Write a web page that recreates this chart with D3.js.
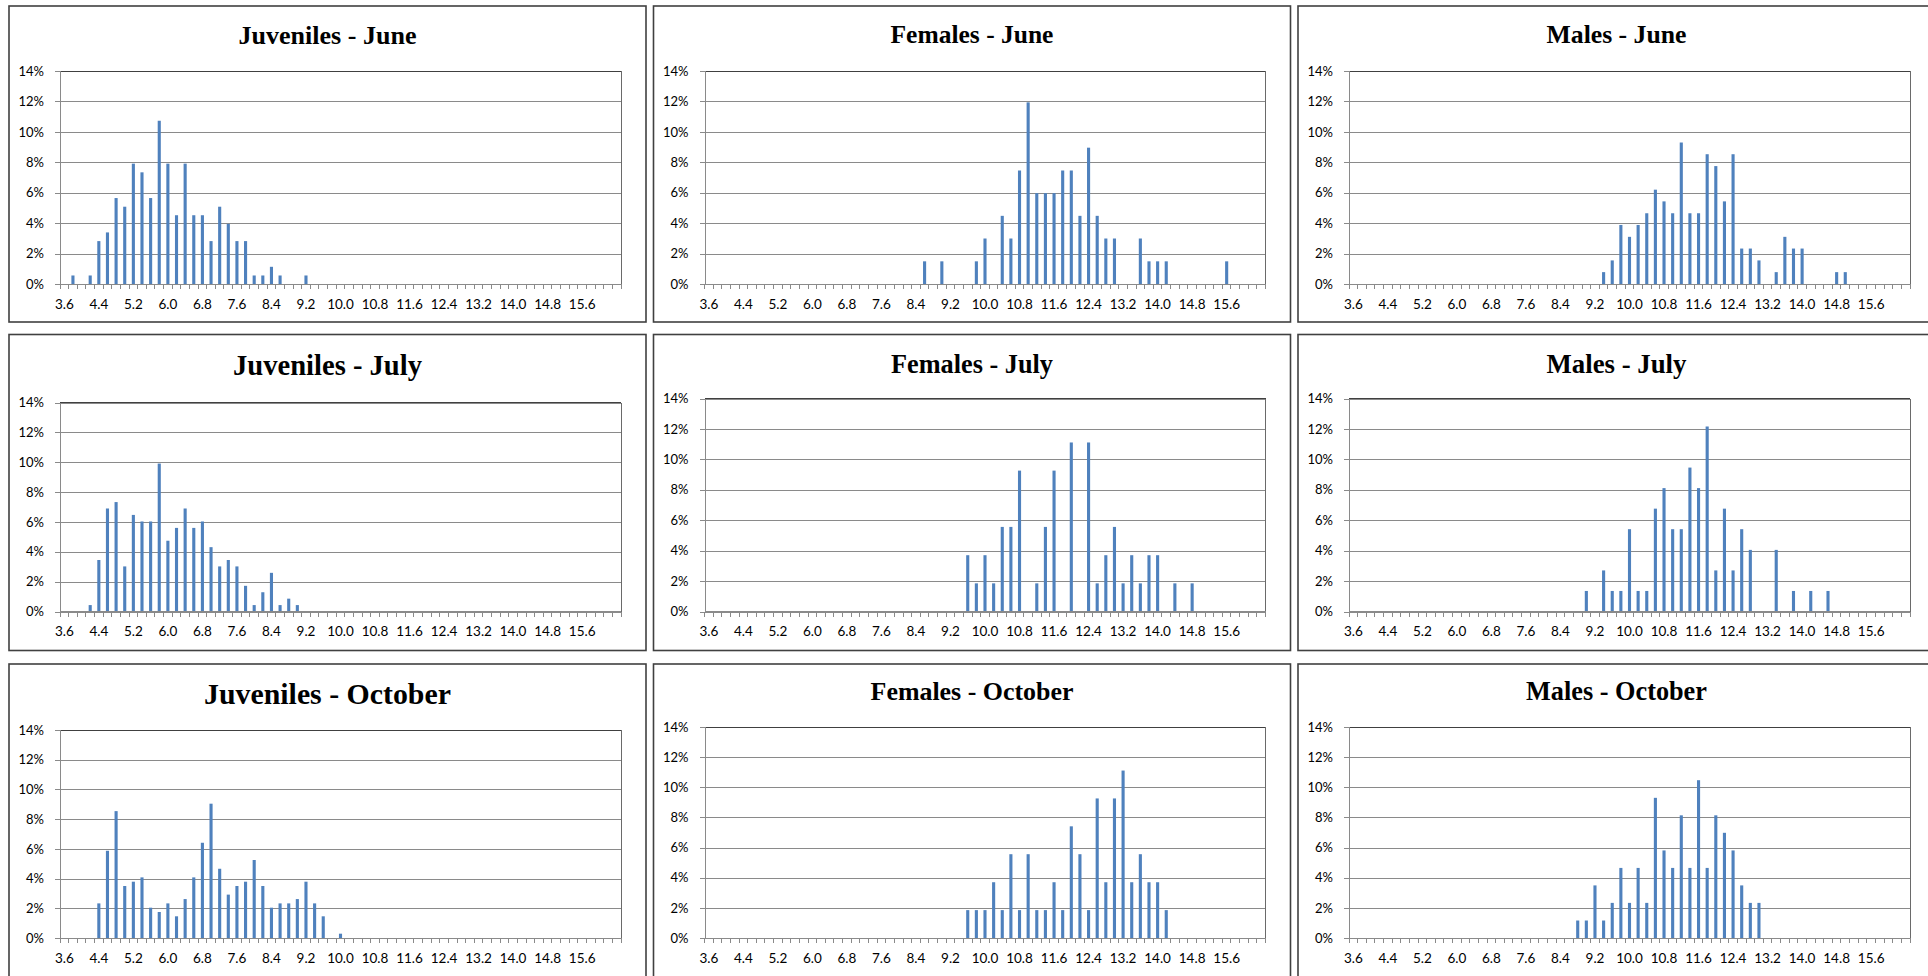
<!DOCTYPE html>
<html><head><meta charset="utf-8">
<script src="https://cdn.jsdelivr.net/npm/d3@7"></script>
<style>
body{margin:0;background:#fff;}
svg{display:block;}
</style>
</head><body>
<svg id="chart" width="1928" height="976"></svg>
<script>
// ---------------- DATA ----------------
const categories = ["3.6","3.8","4.0","4.2","4.4","4.6","4.8","5.0","5.2","5.4","5.6","5.8","6.0","6.2","6.4","6.6","6.8","7.0","7.2","7.4","7.6","7.8","8.0","8.2","8.4","8.6","8.8","9.0","9.2","9.4","9.6","9.8","10.0","10.2","10.4","10.6","10.8","11.0","11.2","11.4","11.6","11.8","12.0","12.2","12.4","12.6","12.8","13.0","13.2","13.4","13.6","13.8","14.0","14.2","14.4","14.6","14.8","15.0","15.2","15.4","15.6","15.8","16.0","16.2","16.4"];
const tickLabels = ["3.6","4.4","5.2","6.0","6.8","7.6","8.4","9.2","10.0","10.8","11.6","12.4","13.2","14.0","14.8","15.6"];
const yTicks = [0,2,4,6,8,10,12,14];
const titles = ["Juveniles - June","Females - June","Males - June","Juveniles - July","Females - July","Males - July","Juveniles - October","Females - October","Males - October"];

// [length class, percent]
const juvenilesJune = [["3.8",0.56],["4.2",0.56],["4.4",2.82],["4.6",3.39],["4.8",5.65],["5.0",5.08],["5.2",7.91],["5.4",7.34],["5.6",5.65],["5.8",10.73],["6.0",7.91],["6.2",4.52],["6.4",7.91],["6.6",4.52],["6.8",4.52],["7.0",2.82],["7.2",5.08],["7.4",3.95],["7.6",2.82],["7.8",2.82],["8.0",0.56],["8.2",0.56],["8.4",1.13],["8.6",0.56],["9.2",0.56]];
const femalesJune = [["8.6",1.49],["9.0",1.49],["9.8",1.49],["10.0",2.99],["10.4",4.48],["10.6",2.99],["10.8",7.46],["11.0",11.94],["11.2",5.97],["11.4",5.97],["11.6",5.97],["11.8",7.46],["12.0",7.46],["12.2",4.48],["12.4",8.96],["12.6",4.48],["12.8",2.99],["13.0",2.99],["13.6",2.99],["13.8",1.49],["14.0",1.49],["14.2",1.49],["15.6",1.49]];
const malesJune = [["9.4",0.78],["9.6",1.55],["9.8",3.88],["10.0",3.10],["10.2",3.88],["10.4",4.65],["10.6",6.20],["10.8",5.43],["11.0",4.65],["11.2",9.30],["11.4",4.65],["11.6",4.65],["11.8",8.53],["12.0",7.75],["12.2",5.43],["12.4",8.53],["12.6",2.33],["12.8",2.33],["13.0",1.55],["13.4",0.78],["13.6",3.10],["13.8",2.33],["14.0",2.33],["14.8",0.78],["15.0",0.78]];
const juvenilesJuly = [["4.2",0.43],["4.4",3.45],["4.6",6.90],["4.8",7.33],["5.0",3.02],["5.2",6.47],["5.4",6.03],["5.6",6.03],["5.8",9.91],["6.0",4.74],["6.2",5.60],["6.4",6.90],["6.6",5.60],["6.8",6.03],["7.0",4.31],["7.2",3.02],["7.4",3.45],["7.6",3.02],["7.8",1.72],["8.0",0.43],["8.2",1.29],["8.4",2.59],["8.6",0.43],["8.8",0.86],["9.0",0.43]];
const femalesJuly = [["9.6",3.70],["9.8",1.85],["10.0",3.70],["10.2",1.85],["10.4",5.56],["10.6",5.56],["10.8",9.26],["11.2",1.85],["11.4",5.56],["11.6",9.26],["12.0",11.11],["12.4",11.11],["12.6",1.85],["12.8",3.70],["13.0",5.56],["13.2",1.85],["13.4",3.70],["13.6",1.85],["13.8",3.70],["14.0",3.70],["14.4",1.85],["14.8",1.85]];
const malesJuly = [["9.0",1.35],["9.4",2.70],["9.6",1.35],["9.8",1.35],["10.0",5.41],["10.2",1.35],["10.4",1.35],["10.6",6.76],["10.8",8.11],["11.0",5.41],["11.2",5.41],["11.4",9.46],["11.6",8.11],["11.8",12.16],["12.0",2.70],["12.2",6.76],["12.4",2.70],["12.6",5.41],["12.8",4.05],["13.4",4.05],["13.8",1.35],["14.2",1.35],["14.6",1.35]];
const juvenilesOctober = [["4.4",2.33],["4.6",5.87],["4.8",8.54],["5.0",3.50],["5.2",3.79],["5.4",4.08],["5.6",2.04],["5.8",1.75],["6.0",2.33],["6.2",1.46],["6.4",2.62],["6.6",4.08],["6.8",6.41],["7.0",9.04],["7.2",4.66],["7.4",2.92],["7.6",3.50],["7.8",3.79],["8.0",5.25],["8.2",3.50],["8.4",2.04],["8.6",2.33],["8.8",2.33],["9.0",2.62],["9.2",3.79],["9.4",2.33],["9.6",1.46],["10.0",0.29]];
const femalesOctober = [["9.6",1.85],["9.8",1.85],["10.0",1.85],["10.2",3.70],["10.4",1.85],["10.6",5.56],["10.8",1.85],["11.0",5.56],["11.2",1.85],["11.4",1.85],["11.6",3.70],["11.8",1.85],["12.0",7.41],["12.2",5.56],["12.4",1.85],["12.6",9.26],["12.8",3.70],["13.0",9.26],["13.2",11.11],["13.4",3.70],["13.6",5.56],["13.8",3.70],["14.0",3.70],["14.2",1.85]];
const malesOctober = [["8.8",1.16],["9.0",1.16],["9.2",3.49],["9.4",1.16],["9.6",2.33],["9.8",4.65],["10.0",2.33],["10.2",4.65],["10.4",2.33],["10.6",9.30],["10.8",5.81],["11.0",4.65],["11.2",8.14],["11.4",4.65],["11.6",10.47],["11.8",4.65],["12.0",8.14],["12.2",6.98],["12.4",5.81],["12.6",3.49],["12.8",2.33],["13.0",2.33]];

const seriesList = [juvenilesJune, femalesJune, malesJune, juvenilesJuly, femalesJuly, malesJuly, juvenilesOctober, femalesOctober, malesOctober];

// ---------------- LAYOUT ----------------
const colX = [9, 653.5, 1298];
const rowY = [6, 334.5, 664];
const panelW = 637, panelH = 316;
const plotLeft = 51, plotRight = 612;
const plotTop = [[65,65,65],[68,64,64],[66,63,63]];
const plotBottom = [278, 277, 274];
const titleWidth = [178,163,140,189,162,140,247,203,181];
const titleBase = [[38,37,37],[40,38,38],[40,36,36]];

const BAR = "#4F81BD", GRID = "#8a8a8a", AXIS = "#8a8a8a", FRAME = "#404040";
const labelFont = "Lato, 'Liberation Sans', sans-serif";

const svg = d3.select("#chart");

seriesList.forEach((series, k) => {
  const r = Math.floor(k / 3), c = k % 3;
  const g = svg.append("g").attr("transform", `translate(${colX[c]},${rowY[r]})`);

  // panel frame
  g.append("rect").attr("x", 0).attr("y", 0).attr("width", panelW).attr("height", panelH)
    .attr("fill", "#fff").attr("stroke", FRAME).attr("stroke-width", 1.6);

  // title
  const t = g.append("text").attr("x", panelW / 2).attr("y", titleBase[r][c])
    .attr("text-anchor", "middle")
    .style("font-family", "'Liberation Serif', 'Times New Roman', serif")
    .style("font-weight", "bold").style("font-size", "26px")
    .attr("fill", "#000").text(titles[k]);
  const len = t.node().getComputedTextLength();
  t.style("font-size", (26 * titleWidth[k] / len) + "px");

  const top = plotTop[r][c], bottom = plotBottom[r];
  const x = d3.scaleBand().domain(categories)
    .range([plotLeft, plotRight]).paddingInner(0.64).paddingOuter(0.32);
  const y = d3.scaleLinear().domain([0, 14]).range([bottom, top]);

  // gridlines
  const grid = g.append("g").attr("transform", `translate(${plotLeft},0)`)
    .call(d3.axisLeft(y).tickValues(yTicks).tickSize(-(plotRight - plotLeft)).tickFormat(""));
  grid.select(".domain").remove();
  grid.selectAll("line").attr("stroke", GRID).attr("shape-rendering", "crispEdges");

  // plot frame top/right
  g.append("line").attr("x1", plotLeft).attr("x2", plotRight).attr("y1", y(14)).attr("y2", y(14))
    .attr("stroke", FRAME).attr("shape-rendering", "crispEdges");
  g.append("line").attr("x1", plotRight).attr("x2", plotRight).attr("y1", y(14)).attr("y2", y(0))
    .attr("stroke", "#6a6a6a").attr("shape-rendering", "crispEdges");

  // bars
  g.append("g").selectAll("rect").data(series).join("rect")
    .attr("x", d => x(d[0]))
    .attr("width", x.bandwidth())
    .attr("y", d => y(d[1]))
    .attr("height", d => y(0) - y(d[1]))
    .attr("fill", BAR);

  // y axis
  const ya = g.append("g").attr("transform", `translate(${plotLeft},0)`)
    .call(d3.axisLeft(y).tickValues(yTicks).tickSize(5).tickPadding(11).tickFormat(d => d + "%"));
  ya.select(".domain").attr("stroke", AXIS).attr("shape-rendering", "crispEdges");
  ya.selectAll("line").attr("stroke", AXIS).attr("shape-rendering", "crispEdges");
  ya.selectAll("text").style("font-family", labelFont).style("font-size", "13px").attr("fill", "#000");

  // x axis baseline and minor ticks at band boundaries
  const xa = g.append("g").attr("transform", `translate(0,${y(0)})`);
  xa.append("line").attr("x1", plotLeft).attr("x2", plotRight).attr("stroke", AXIS)
    .attr("shape-rendering", "crispEdges");
  const bounds = categories.map(cat => x(cat) + x.bandwidth() / 2 - x.step() / 2)
    .concat([x(categories[categories.length - 1]) + x.bandwidth() / 2 + x.step() / 2]);
  xa.selectAll("line.tk").data(bounds).join("line").attr("class", "tk")
    .attr("x1", d => d).attr("x2", d => d).attr("y1", 0).attr("y2", 5)
    .attr("stroke", AXIS).attr("shape-rendering", "crispEdges");
  const xl = g.append("g").attr("transform", `translate(0,${y(0)})`)
    .call(d3.axisBottom(x).tickValues(tickLabels).tickSize(0).tickPadding(15));
  xl.select(".domain").remove();
  xl.selectAll("text").style("font-family", labelFont).style("font-size", "13.5px").attr("fill", "#000");
});
</script>
</body></html>
